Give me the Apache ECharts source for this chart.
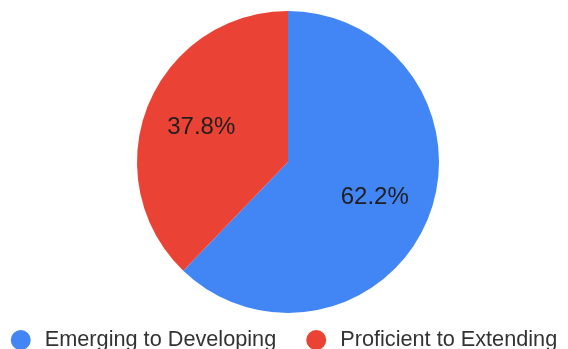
<!DOCTYPE html>
<html><head><meta charset="utf-8">
<script src="https://cdn.jsdelivr.net/npm/echarts@6/dist/echarts.min.js"></script>
<style>html,body{margin:0;padding:0;background:#fff}#c{width:568px;height:349px}</style>
</head><body><div id="c"></div>
<script>
const categories = ["Emerging to Developing", "Proficient to Extending"];
const values = [62.2, 37.8];
const colors = ["#4285F4", "#EA4335"];
const data = categories.map((n, i) => ({name: n, value: values[i], itemStyle: {color: colors[i]}}));
const chart = echarts.init(document.getElementById('c'));
chart.setOption({
  animation: false,
  textStyle: {fontFamily: "Liberation Sans, Arial, sans-serif"},
  legend: {
    top: 329, left: 'center', icon: 'circle', itemWidth: 20, itemHeight: 20, itemGap: 30, padding: 0,
    textStyle: {fontSize: 21.7, color: '#333', padding: [0, 0, 0, 9], fontFamily: "Liberation Sans, Arial, sans-serif"},
    data: categories
  },
  series: [
    {type: 'pie', center: [288, 162], radius: [0, 151], startAngle: 90, clockwise: true,
     label: {show: false}, labelLine: {show: false}, data: data, silent: true},
    {type: 'pie', center: [288, 162], radius: [0, 181], startAngle: 90, clockwise: true,
     silent: true, legendHoverLink: false,
     itemStyle: {color: 'rgba(0,0,0,0)', borderWidth: 0},
     label: {show: true, position: 'inside', formatter: p => p.value.toFixed(1) + '%', fontSize: 24, color: '#1f1f1f', fontFamily: "Liberation Sans, Arial, sans-serif"},
     labelLine: {show: false},
     data: categories.map((n, i) => ({name: n + ' ', value: values[i]}))}
  ]
});
</script></body></html>
